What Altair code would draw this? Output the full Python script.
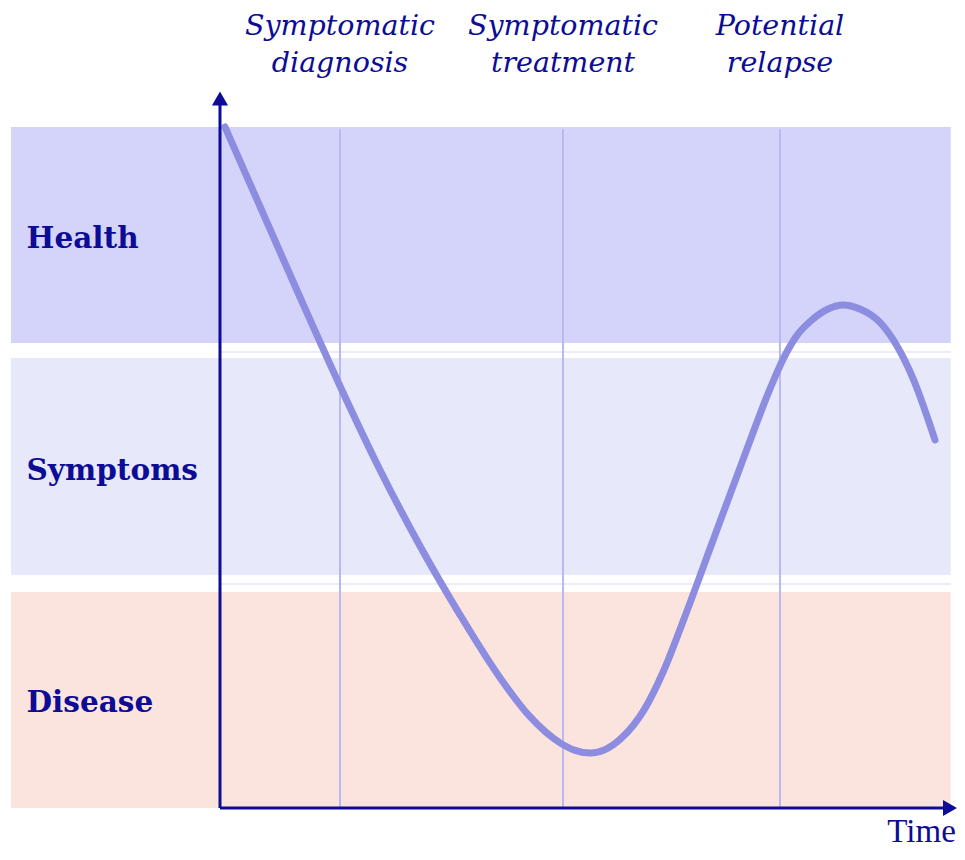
import altair as alt
import pandas as pd

# ---- data ----
curve_t = [0.685, 5.479, 10.959, 16.438, 21.918, 27.397, 32.877, 38.356, 42.466,
           46.575, 48.630, 50.685, 52.740, 54.795, 58.219, 60.685, 63.699, 67.534,
           72.192, 75.342, 77.260, 79.041, 81.233, 83.288, 85.342, 87.671, 90.411,
           94.932, 97.945]
curve_v = [3.000, 2.650, 2.250, 1.859, 1.489, 1.154, 0.851, 0.574, 0.402,
           0.287, 0.254, 0.242, 0.257, 0.302, 0.439, 0.598, 0.845, 1.178,
           1.582, 1.846, 1.985, 2.082, 2.154, 2.198, 2.216, 2.198, 2.139,
           1.892, 1.621]

band_names = ["Health", "Symptoms", "Disease"]
band_lo = [2.048, 1.026, 0.0]
band_hi = [3.0, 1.982, 0.952]
band_colors = ["#d4d4fa", "#e8e8fb", "#fce4de"]
band_label_v = [2.505, 1.485, 0.463]
band_t_start = -28.63
band_t_end = 100.1
band_label_t = -26.5

event_t = [16.44, 46.99, 76.71]
event_line1 = ["Symptomatic", "Symptomatic", "Potential"]
event_line2 = ["diagnosis", "treatment", "relapse"]
event_top_v = 2.99
event_line1_v = 3.405
event_line2_v = 3.242

grid_v = [0.987, 2.009]

y_axis_top = 3.10
y_arrow_v = 3.125
x_axis_end = 99.6
x_arrow_t = 100.0
time_label_t = 100.8
time_label_v = -0.150

X_DOMAIN = [-29.04, 100.96]
Y_DOMAIN = [-0.185, 3.524]

INK = "#0c0c96"
FONT = "DejaVu Serif"

xs = alt.Scale(domain=X_DOMAIN, nice=False, zero=False)
ys = alt.Scale(domain=Y_DOMAIN, nice=False, zero=False)

bands = pd.DataFrame({"name": band_names, "lo": band_lo, "hi": band_hi,
                      "t0": band_t_start, "t1": band_t_end,
                      "lv": band_label_v, "lt": band_label_t})
curve = pd.DataFrame({"t": curve_t, "v": curve_v})
events = pd.DataFrame({"t": event_t, "l1": event_line1, "l2": event_line2,
                       "v0": 0.0, "v1": event_top_v,
                       "y1": event_line1_v, "y2": event_line2_v})
grid = pd.DataFrame({"v": grid_v, "t0": 0.0, "t1": band_t_end})
axes = pd.DataFrame({"t0": [0.0, 0.0], "t1": [0.0, x_axis_end],
                     "v0": [0.0, 0.0], "v1": [y_axis_top, 0.0]})
arrow_up = pd.DataFrame({"t": [0.0], "v": [y_arrow_v]})
arrow_right = pd.DataFrame({"t": [x_arrow_t], "v": [0.0]})
time_df = pd.DataFrame({"t": [time_label_t], "v": [time_label_v], "txt": ["Time"]})

X = lambda f: alt.X(f, type="quantitative", scale=xs, axis=None)
Y = lambda f: alt.Y(f, type="quantitative", scale=ys, axis=None)

band_layer = alt.Chart(bands).mark_rect().encode(
    x=X("t0"), x2="t1", y=Y("lo"), y2="hi",
    color=alt.Color("name:N", scale=alt.Scale(domain=band_names, range=band_colors), legend=None),
)

grid_layer = alt.Chart(grid).mark_rule(color="#ebebfb", strokeWidth=2).encode(
    x=X("t0"), x2="t1", y=Y("v"))

event_layer = alt.Chart(events).mark_rule(color="#b9b9f2", strokeWidth=2).encode(
    x=X("t"), y=Y("v0"), y2="v1")

curve_layer = alt.Chart(curve).mark_line(
    interpolate="monotone", strokeWidth=7, strokeCap="round", color="#8c8ce0"
).encode(x=X("t"), y=Y("v"))

axis_layer = alt.Chart(axes).mark_rule(color=INK, strokeWidth=3).encode(
    x=X("t0"), x2="t1", y=Y("v0"), y2="v1")

arrow_up_layer = alt.Chart(arrow_up).mark_point(
    shape="triangle-up", filled=True, size=260, color=INK, opacity=1
).encode(x=X("t"), y=Y("v"))

arrow_right_layer = alt.Chart(arrow_right).mark_point(
    shape="triangle-right", filled=True, size=260, color=INK, opacity=1
).encode(x=X("t"), y=Y("v"))

band_text = alt.Chart(bands).mark_text(
    align="left", baseline="middle", font=FONT, fontWeight="bold", fontSize=29.5, color=INK
).encode(x=X("lt"), y=Y("lv"), text="name:N")

ev_text1 = alt.Chart(events).mark_text(
    align="center", baseline="alphabetic", font=FONT, fontStyle="italic", fontSize=28.5, color=INK
).encode(x=X("t"), y=Y("y1"), text="l1:N")

ev_text2 = alt.Chart(events).mark_text(
    align="center", baseline="alphabetic", font=FONT, fontStyle="italic", fontSize=28.5, color=INK
).encode(x=X("t"), y=Y("y2"), text="l2:N")

time_text = alt.Chart(time_df).mark_text(
    align="right", baseline="alphabetic", font="Liberation Serif", fontSize=33, color=INK
).encode(x=X("t"), y=Y("v"), text="txt:N")

chart = alt.layer(
    band_layer, grid_layer, event_layer, curve_layer, axis_layer,
    arrow_up_layer, arrow_right_layer, band_text, ev_text1, ev_text2, time_text
).properties(
    width=949, height=842, padding=0, autosize=alt.AutoSizeParams(type="none")
).configure_view(stroke=None)

chart.save("out.html", embed_options={"renderer": "svg", "actions": False})
